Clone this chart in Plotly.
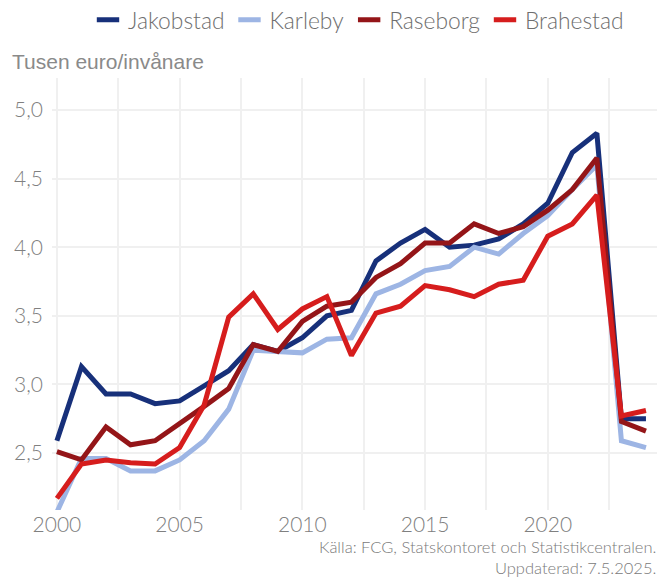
import plotly.graph_objects as go

years = list(range(2000, 2025))

jakobstad = [2.59, 3.13, 2.93, 2.93, 2.86, 2.88, 2.99, 3.10, 3.29, 3.24, 3.34, 3.50, 3.54,
             3.90, 4.03, 4.13, 4.00, 4.015, 4.06, 4.17, 4.32, 4.69, 4.83, 2.75, 2.75]
karleby = [2.07, 2.46, 2.46, 2.37, 2.37, 2.45, 2.59, 2.82, 3.25, 3.24, 3.23, 3.33, 3.34,
           3.66, 3.73, 3.83, 3.86, 4.00, 3.95, 4.10, 4.23, 4.42, 4.60, 2.59, 2.54]
raseborg = [2.51, 2.45, 2.69, 2.56, 2.59, 2.71, 2.84, 2.97, 3.29, 3.24, 3.46, 3.57, 3.60,
            3.78, 3.88, 4.03, 4.03, 4.17, 4.10, 4.15, 4.27, 4.42, 4.65, 2.73, 2.66]
brahestad = [2.17, 2.42, 2.45, 2.43, 2.42, 2.54, 2.85, 3.49, 3.66, 3.40, 3.55, 3.64, 3.21,
             3.52, 3.57, 3.72, 3.69, 3.64, 3.73, 3.76, 4.08, 4.17, 4.38, 2.77, 2.81]

names = ["Jakobstad", "Karleby", "Raseborg", "Brahestad"]
series = [jakobstad, karleby, raseborg, brahestad]
colors = ["#17307a", "#9db5e4", "#941518", "#d61d1d"]

y_title = "Tusen euro/invånare"
footer = "Källa: FCG, Statskontoret och Statistikcentralen.<br>Uppdaterad: 7.5.2025."

LIGHT = "Lato"
fig = go.Figure()
for n, s, c in zip(names, series, colors):
    fig.add_trace(go.Scatter(x=years, y=s, mode="lines", name=n, showlegend=False,
                             line=dict(color=c, width=5), hoverinfo="x+y+name"))
for n, c in zip(names, colors):
    fig.add_trace(go.Scatter(x=[None], y=[None], mode="markers", name=n,
                             marker=dict(symbol="line-ew", size=18, color=c,
                                         line=dict(color=c, width=6))))

fig.update_layout(
    width=666, height=581,
    margin=dict(l=52, r=9, t=78, b=71, autoexpand=False),
    paper_bgcolor="white", plot_bgcolor="white",
    separators=",.",
    font=dict(family=LIGHT, color="#7a7a7a"),
    legend=dict(orientation="h", x=88 / 666, xref="container", xanchor="left",
                y=1 - 20 / 581, yref="container", yanchor="middle",
                font=dict(family=LIGHT, size=22.8, color="#6e6e6e", weight=300),
                bgcolor="rgba(0,0,0,0)", itemwidth=30, tracegroupgap=0),
    xaxis=dict(range=[1999.8, 2024.45], dtick=5, tick0=2000, showgrid=True,
               gridcolor="#f0f0f0", gridwidth=2, zeroline=False, showline=False, ticks="",
               tickfont=dict(family=LIGHT, size=21, color="#808080", weight=300),
               minor=dict(dtick=2.5, showgrid=True, gridcolor="#f0f0f0", gridwidth=2),
               ticklabelstandoff=0),
    yaxis=dict(range=[2.085, 5.233], dtick=0.5, tick0=2.5, tickformat=".1f", showgrid=True,
               gridcolor="#f0f0f0", gridwidth=2, zeroline=False, showline=False, ticks="",
               tickfont=dict(family=LIGHT, size=21, color="#808080", weight=300),
               ticklabelstandoff=8),
    annotations=[
        dict(text=y_title, xref="paper", yref="paper", x=-0.0695, y=1.039,
             xanchor="left", yanchor="middle", showarrow=False,
             font=dict(family="Liberation Sans", size=21, color="#8a8a8a")),
        dict(text=footer, xref="paper", yref="paper", x=1.0017, y=-0.111,
             xanchor="right", yanchor="middle", align="right", showarrow=False,
             font=dict(family=LIGHT, size=16.5, color="#7a7a7a", weight=300)),
    ],
)

fig.write_html("out.html", config={"displayModeBar": False},
               post_script="document.body.style.margin='0';")
